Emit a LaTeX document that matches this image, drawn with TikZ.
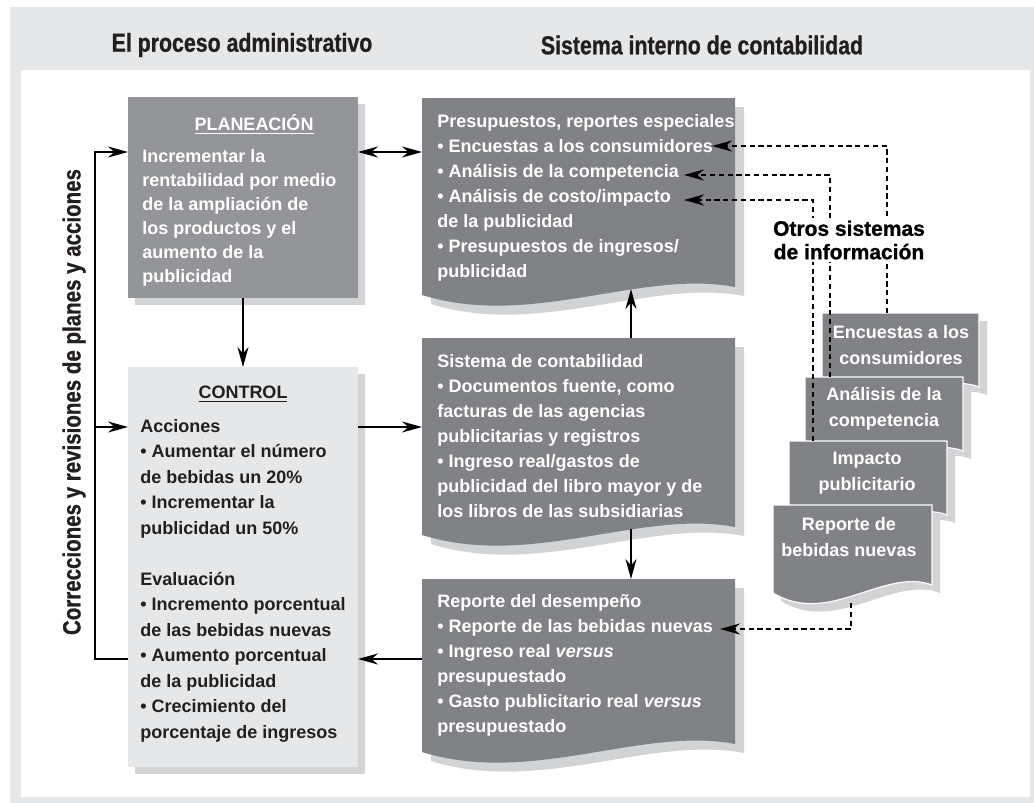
\documentclass[tikz,border=0pt]{standalone}
\usepackage{fontspec}
\setmainfont{Liberation Sans}
\newfontfamily\headfont{Liberation Sans Bold}[FakeStretch=0.82,FakeBold=0.8]
\newfontfamily\heavyfont{Liberation Sans Bold}[FakeBold=1]
\usetikzlibrary{arrows.meta,calc,shadows}

\definecolor{framegray}{HTML}{E6E7E8}
\definecolor{shadegray}{HTML}{D1D3D4}
\definecolor{plangray}{HTML}{939598}
\definecolor{docgray}{HTML}{808285}
\definecolor{inkgray}{HTML}{231F20}

% outline of a sheet with a wavy lower edge, laid on an empty node
\newcommand{\docpath}[1]{(#1.north west) -- (#1.north east) -- ([yshift=4pt]#1.south east)
  .. controls ($(#1.south east)!0.3!(#1.south west)+(0,-26)$) and ($(#1.south west)!0.35!(#1.south east)+(0,34)$) .. (#1.south west) -- cycle}

\begin{document}
\begin{tikzpicture}[x=0.5pt,y=-0.5pt,
  font=\bfseries\fontsize{9}{12.5}\selectfont,
  head/.style={font=\headfont\fontsize{13}{15}\selectfont,text=inkgray},
  txt/.style={anchor=north west,align=left,inner sep=0},
  docarea/.style={anchor=north west,inner sep=0,outer sep=0},
  boxshadow/.style={drop shadow={shadow xshift=#1,shadow yshift=-#1,fill=shadegray,opacity=1}},
  doctxt/.style={text=white,align=center,inner sep=0,font=\bfseries\fontsize{9}{13}\selectfont},
  arr/.style={line width=0.8pt,-{Stealth[length=10pt,width=5.5pt]}},
  dbl/.style={line width=0.8pt,{Stealth[length=10pt,width=5.5pt]}-{Stealth[length=10pt,width=5.5pt]}},
  dasharr/.style={line width=1.3pt,dash pattern=on 2.6pt off 1.8pt,-{Stealth[length=10pt,width=5.5pt]}}]
\useasboundingbox (0,0) rectangle (1034,803);
\fill[framegray] (10,7) rectangle (1034,803);
\fill[white] (21,70) rectangle (1030,797);

\node[head] (adm) at (242,45) {El proceso administrativo};
\node[head] (sis) at (702,45) {Sistema interno de contabilidad};
\node[head,rotate=90,font=\headfont\fontsize{12.5}{15}\selectfont] (corr) at (74,402) {Correcciones y revisiones de planes y acciones};

% el proceso administrativo
\node[docarea,fill=plangray,boxshadow=3.5pt,minimum width=115pt,minimum height=100.5pt] (plan) at (128,97) {};
\node[docarea,fill=framegray,boxshadow=3.5pt,minimum width=115pt,minimum height=200pt] (ctrl) at (128,367) {};

\node[anchor=base,text=white] (plan-t) at (254,130) {\underline{PLANEACIÓN}};
\node[txt,text=white,font=\bfseries\fontsize{9}{12}\selectfont] (plan-b) at (142,149) {Incrementar la\\rentabilidad por medio\\de la ampliación de\\los productos y el\\aumento de la\\publicidad};

\node[anchor=base,text=inkgray] (ctrl-t) at (243,398) {\underline{CONTROL}};
\node[txt,text=inkgray,font=\bfseries\fontsize{9}{12.75}\selectfont] (ctrl-b) at (140,419) {Acciones\\• Aumentar el número\\de bebidas un 20\%\\• Incrementar la\\publicidad un 50\%\\[12.75pt]Evaluación\\• Incremento porcentual\\de las bebidas nuevas\\• Aumento porcentual\\de la publicidad\\• Crecimiento del\\porcentaje de ingresos};

% sistema interno
\node[docarea,minimum width=156.5pt,minimum height=98.5pt] (presu) at (422,98) {};
\node[docarea,minimum width=156.5pt,minimum height=98.5pt] (sist) at (422,338) {};
\node[docarea,minimum width=156.5pt,minimum height=86.5pt] (repo) at (422,579) {};
\foreach \d in {presu,sist,repo}
  \fill[docgray,boxshadow=4.5pt] \docpath{\d};

\node[txt,text=white] (presu-t) at (437,114) {Presupuestos, reportes especiales\\• Encuestas a los consumidores\\• Análisis de la competencia\\• Análisis de costo/impacto\\de la publicidad\\• Presupuestos de ingresos/\\publicidad};
\node[txt,text=white] (sist-t) at (437,354) {Sistema de contabilidad\\• Documentos fuente, como\\facturas de las agencias\\publicitarias y registros\\• Ingreso real/gastos de\\publicidad del libro mayor y de\\los libros de las subsidiarias};
\node[txt,text=white] (repo-t) at (437,594) {Reporte del desempeño\\• Reporte de las bebidas nuevas\\• Ingreso real \textit{versus}\\presupuestado\\• Gasto publicitario real \textit{versus}\\presupuestado};

% otros sistemas
\node[docarea,minimum width=78.5pt,minimum height=41pt] (encdoc) at (822,313) {};
\node[docarea,minimum width=79pt,minimum height=41pt] (anadoc) at (805,377) {};
\node[docarea,minimum width=79pt,minimum height=41pt] (impdoc) at (789,441) {};
\node[docarea,minimum width=79.5pt,minimum height=44pt] (repdoc) at (773,505) {};
\foreach \d in {encdoc,anadoc,impdoc,repdoc}
  \filldraw[fill=docgray,draw=white,line width=0.6pt,boxshadow=4pt] \docpath{\d};

\node[doctxt] (enc-t) at (901,345) {Encuestas a los\\consumidores};
\node[doctxt] (ana-t) at (884,409) {Análisis de la\\competencia};
\node[doctxt] (imp-t) at (867,473) {Impacto\\publicitario};
\node[doctxt] (rep-t) at (849,537) {Reporte de\\bebidas nuevas};

% flechas
\coordinate (loop) at (95,427);
\draw[arr] (plan) -- (ctrl);
\draw[arr] (ctrl.west |- 0,659) -| (loop) |- (plan.west |- 0,152);
\draw[arr] (loop) -- (ctrl.west |- loop);
\draw[dbl] (plan.east |- 0,152) -- (presu.west |- 0,152);
\draw[arr] (ctrl.east |- loop) -- (sist.west |- loop);
\coordinate (pb) at (631,289);
\draw[arr] (sist.north -| pb) -- (pb);
\coordinate (sb) at (631,529);
\draw[arr] (sb) -- (repo.north -| sb);
\draw[arr] (repo.west |- 0,659) -- (ctrl.east |- 0,659);

\coordinate (t-enc) at (712,146);
\coordinate (t-ana) at (684,175);
\coordinate (t-imp) at (684,200);
\coordinate (t-rep) at (720,629);
\draw[dasharr] (encdoc.north -| 887,0) |- (t-enc);
\draw[dasharr] (anadoc.north -| 830,0) |- (t-ana);
\draw[dasharr] (impdoc.north -| 813,0) |- (t-imp);
\draw[dasharr] ($(repdoc.south -| 851,0)+(0,10)$) |- (t-rep);

\node[fill=white,inner sep=1.5pt,align=center,font=\heavyfont\fontsize{10.5}{11.7}\selectfont] (otros) at (849,240) {Otros sistemas\\de información};
\end{tikzpicture}
\end{document}
